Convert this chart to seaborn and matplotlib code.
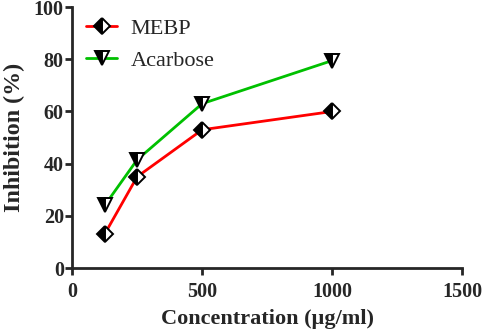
import numpy as np
import pandas as pd
import seaborn as sns
import matplotlib.pyplot as plt

# data
conc = [125, 250, 500, 1000]
mebp = [13, 35, 53, 60]
acarbose = [24, 41.5, 63, 79.5]

sns.set_style('ticks')
plt.rcParams['font.family'] = ['Liberation Serif', 'DejaVu Serif']

fig = plt.figure(figsize=(4.84, 3.36), dpi=100)
ax = fig.add_axes([0.149, 0.202, 0.806, 0.777])

df = pd.DataFrame({'conc': conc * 2,
                   'inh': mebp + acarbose,
                   'group': ['MEBP'] * 4 + ['Acarbose'] * 4})

for name, col, mk in [('MEBP', '#ff0000', 'D'), ('Acarbose', '#00c000', 'v')]:
    sns.lineplot(data=df[df.group == name], x='conc', y='inh', ax=ax,
                 color=col, lw=2, marker=mk, markersize=10 if mk == 'v' else 8,
                 markerfacecolor='black', markerfacecoloralt='white',
                 fillstyle='left', markeredgecolor='black', markeredgewidth=1.4,
                 label=name)

ax.set_xlim(0, 1500)
ax.set_ylim(0, 100)
ax.set_xticks([0, 500, 1000, 1500])
ax.set_yticks([0, 20, 40, 60, 80, 100])
sns.despine(ax=ax)
for s in ['left', 'bottom']:
    ax.spines[s].set_linewidth(2)
ax.tick_params(width=2, length=5, labelsize=14.5)
ax.tick_params(axis='x', pad=5)
ax.tick_params(axis='y', pad=1)
for lb in ax.get_xticklabels() + ax.get_yticklabels():
    lb.set_fontweight('bold')
ax.set_xlabel('Concentration (µg/ml)', fontsize=16, fontweight='bold', labelpad=5)
ax.set_ylabel('Inhibition (%)', fontsize=17.3, fontweight='bold', labelpad=6)

ax.legend(loc='upper left', bbox_to_anchor=(-0.015, 1.032), frameon=False,
          fontsize=16, handlelength=1.4, handletextpad=0.6, labelspacing=0.5)

fig.savefig('out.png', dpi=100)
